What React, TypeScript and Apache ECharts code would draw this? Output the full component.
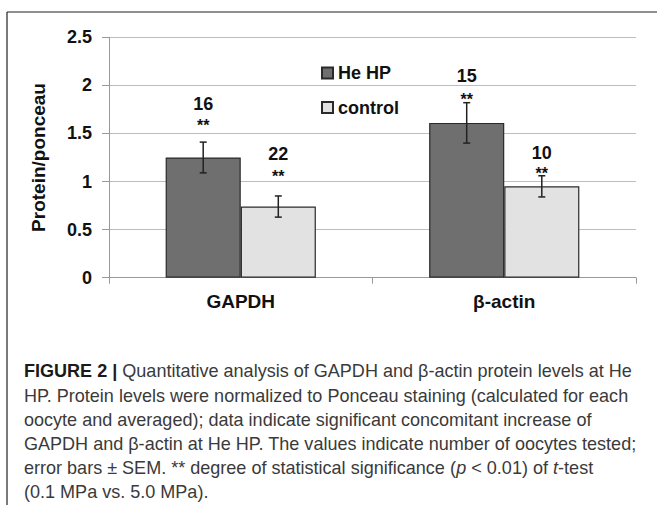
import React, { useEffect, useRef } from "react";
import * as echarts from "echarts";

const categories = ["GAPDH", "β-actin"];
const seriesNames = ["He HP", "control"];
const heHP = [1.25, 1.61];
const control = [0.74, 0.95];
const heHPErr = [0.16, 0.21];
const controlErr = [0.11, 0.11];
const heHPN = ["16", "15"];
const controlN = ["22", "10"];
const heHPNY = [1.81, 2.1];
const heHPStarY = [1.58, 1.85];
const controlNY = [1.29, 1.3];
const controlStarY = [1.05, 1.08];
const yMin = 0;
const yMax = 2.5;
const yInterval = 0.5;

const captionLines = [
  "{b|FIGURE 2 |} Quantitative analysis of GAPDH and β-actin protein levels at He",
  "HP. Protein levels were normalized to Ponceau staining (calculated for each",
  "oocyte and averaged); data indicate significant concomitant increase of",
  "GAPDH and β-actin at He HP. The values indicate number of oocytes tested;",
  "error bars ± SEM. ** degree of statistical significance ({i|p} < 0.01) of {i|t}-test",
  "(0.1 MPa vs. 5.0 MPa).",
];

const FONT = "'Liberation Sans', Arial, Helvetica, sans-serif";
const CAT_GAP = 0.43;

function errRender(side: number, errs: number[], vals: number[]) {
  return (params: any, api: any) => {
    const i = api.value(0);
    const band = api.size([1, 0])[0];
    const barW = (band * (1 - CAT_GAP)) / 2;
    const cx = api.coord([i, 0])[0] + (side * barW) / 2;
    const lo = api.coord([i, vals[params.dataIndex] - errs[params.dataIndex]])[1];
    const hi = api.coord([i, vals[params.dataIndex] + errs[params.dataIndex]])[1];
    const st = { stroke: "#222", lineWidth: 1.5 };
    return {
      type: "group",
      children: [
        { type: "line", shape: { x1: cx, y1: lo, x2: cx, y2: hi }, style: st },
        { type: "line", shape: { x1: cx - 3.5, y1: lo, x2: cx + 3.5, y2: lo }, style: st },
        { type: "line", shape: { x1: cx - 3.5, y1: hi, x2: cx + 3.5, y2: hi }, style: st },
      ],
    };
  };
}

function annRender(side: number, labels: string[], nY: number[], starY: number[]) {
  return (params: any, api: any) => {
    const i = api.value(0);
    const k = params.dataIndex;
    const band = api.size([1, 0])[0];
    const barW = (band * (1 - CAT_GAP)) / 2;
    const cx = api.coord([i, 0])[0] + (side * barW) / 2;
    const yN = api.coord([i, nY[k]])[1];
    const yS = api.coord([i, starY[k]])[1];
    return {
      type: "group",
      children: [
        {
          type: "text",
          x: cx,
          y: yN,
          style: {
            text: labels[k],
            fontSize: 18,
            fontWeight: "bold",
            fontFamily: FONT,
            fill: "#111",
            align: "center",
            verticalAlign: "middle",
          },
        },
        {
          type: "text",
          x: cx,
          y: yS,
          style: {
            text: "**",
            fontSize: 16,
            fontWeight: "bold",
            fontFamily: FONT,
            fill: "#111",
            align: "center",
            verticalAlign: "middle",
          },
        },
      ],
    };
  };
}

export default function App() {
  const ref = useRef<HTMLDivElement>(null);
  useEffect(() => {
    document.body.style.margin = "0";
    const chart = echarts.init(ref.current!, null, { renderer: "svg" });
    const idx = categories.map((_, i) => [i]);
    const captionGraphics = captionLines.map((t, k) => ({
      type: "text",
      x: 24,
      y: 370.7 + k * 24.2,
      scaleX: 0.95,
      style: {
        text: t,
        fontSize: 19,
        fontFamily: FONT,
        fill: "#3a3a3a",
        verticalAlign: "middle",
        rich: {
          b: { fontSize: 19, fontWeight: "bold", fontFamily: FONT, fill: "#1a1a1a" },
          i: { fontSize: 19, fontStyle: "italic", fontFamily: FONT, fill: "#3a3a3a" },
        },
      },
    }));
    chart.setOption({
      animation: false,
      backgroundColor: "#ffffff",
      grid: { left: 109, right: 21, top: 37.3, bottom: 227.3 },
      legend: {
        data: seriesNames,
        orient: "vertical",
        left: 321,
        top: 64,
        padding: 0,
        itemWidth: 11,
        itemHeight: 11,
        itemGap: 16.5,
        icon: "rect",
        textStyle: { fontSize: 18, fontWeight: "bold", fontFamily: FONT, color: "#111" },
      },
      xAxis: {
        type: "category",
        data: categories,
        axisLine: { lineStyle: { color: "#999", width: 1 } },
        axisTick: { show: true, length: 6, lineStyle: { color: "#999" } },
        axisLabel: { fontSize: 19, fontWeight: "bold", fontFamily: FONT, color: "#111", margin: 14 },
      },
      yAxis: {
        type: "value",
        min: yMin,
        max: yMax,
        interval: yInterval,
        name: "Protein/ponceau",
        nameLocation: "middle",
        nameGap: 61,
        nameTextStyle: { fontSize: 19, fontWeight: "bold", fontFamily: FONT, color: "#111" },
        axisLine: { show: true, lineStyle: { color: "#999", width: 1 } },
        axisTick: { show: true, length: 7, lineStyle: { color: "#999" } },
        axisLabel: { fontSize: 18, fontWeight: "bold", fontFamily: FONT, color: "#111", margin: 17 },
        splitLine: { lineStyle: { color: "#bdbdbd", width: 1 } },
      },
      series: [
        {
          name: seriesNames[0],
          type: "bar",
          data: heHP,
          barGap: "0%",
          barCategoryGap: CAT_GAP * 100 + "%",
          itemStyle: { color: "#6f6f6f", borderColor: "#2a2a2a", borderWidth: 1.2 },
        },
        {
          name: seriesNames[1],
          type: "bar",
          data: control,
          barGap: "0%",
          barCategoryGap: CAT_GAP * 100 + "%",
          itemStyle: { color: "#e2e2e2", borderColor: "#2a2a2a", borderWidth: 1.2 },
        },
        { type: "custom", z: 5, data: idx, renderItem: errRender(-1, heHPErr, heHP) },
        { type: "custom", z: 5, data: idx, renderItem: errRender(1, controlErr, control) },
        { type: "custom", z: 5, data: idx, renderItem: annRender(-1, heHPN, heHPNY, heHPStarY) },
        { type: "custom", z: 5, data: idx, renderItem: annRender(1, controlN, controlNY, controlStarY) },
      ],
      graphic: [
        { type: "line", shape: { x1: 7, y1: 12, x2: 657, y2: 12 }, style: { stroke: "#222", lineWidth: 1.2 } },
        { type: "line", shape: { x1: 7, y1: 12, x2: 7, y2: 505 }, style: { stroke: "#222", lineWidth: 1.2 } },
        ...captionGraphics,
      ],
    });
    return () => chart.dispose();
  }, []);
  return <div ref={ref} style={{ width: 657, height: 505 }} />;
}
